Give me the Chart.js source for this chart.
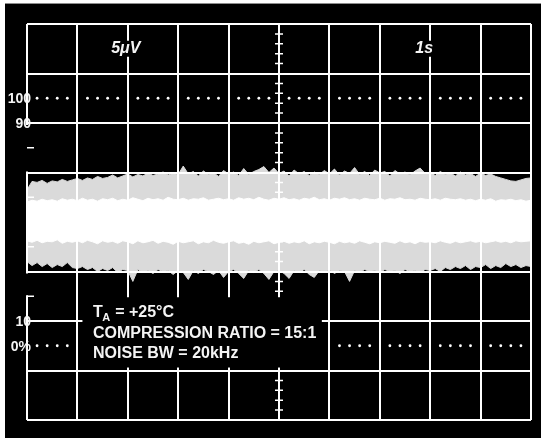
<!DOCTYPE html>
<html>
<head>
<meta charset="utf-8">
<script src="https://cdn.jsdelivr.net/npm/chart.js@4.4.1/dist/chart.umd.min.js"></script>
<style>
  html, body { margin: 0; padding: 0; background: #fff; }
  canvas { display: block; }
</style>
</head>
<body>
<canvas id="scope" width="541" height="438"></canvas>
<script>
// scope trace: 5uV/div vertical, 1s/div horizontal, 10 x 8 divisions
const sampleStep = 0.1 // seconds between envelope samples

// noise envelope, in uV
const upperOuter = [
  3.25, 4.1, 4.0, 4.2, 3.9, 4.15, 4.05, 4.3, 4.1, 4.25, 4.4,
  4.2, 4.45, 4.3, 4.6, 4.4, 4.5, 4.75, 4.45, 4.65,
  4.85, 4.55, 4.8, 4.65, 4.95, 4.7, 4.85, 5.05, 4.75, 4.9,
  4.8, 5.65, 4.85, 5.1, 4.65, 5.15, 4.8, 5.0, 4.6, 5.2,
  4.85, 5.05, 4.7, 5.4, 4.8, 5.1, 5.3, 5.6, 5.0, 5.45,
  4.9, 5.15, 4.65, 5.25, 4.85, 5.1, 4.7, 5.05, 4.8, 5.2,
  4.85, 5.35, 4.75, 5.15, 4.9, 5.5, 4.8, 5.1, 4.7, 5.25,
  4.95, 5.1, 4.65, 5.2, 4.85, 5.05, 4.75, 5.15, 5.45, 4.9,
  5.0, 4.7, 5.1, 4.8, 4.95, 4.65, 5.05, 4.75, 4.9, 4.6,
  4.95, 4.7, 4.85, 4.6, 4.45, 4.3, 4.15, 4.1, 4.25, 4.4,
  4.45
]
const upperInner = [
  2.0, 2.2, 2.1, 2.3, 2.15, 2.25, 2.1, 2.35, 2.2, 2.3, 2.15,
  2.4, 2.2, 2.3, 2.1, 2.35, 2.25, 2.4, 2.15, 2.3,
  2.2, 2.45, 2.3, 2.15, 2.4, 2.25, 2.35, 2.2, 2.5, 2.3,
  2.25, 2.4, 2.2, 2.35, 2.3, 2.45, 2.2, 2.3, 2.4, 2.25,
  2.35, 2.2, 2.45, 2.3, 2.4, 2.25, 2.5, 2.3, 2.2, 2.4,
  2.3, 2.45, 2.25, 2.35, 2.2, 2.4, 2.3, 2.5, 2.25, 2.35,
  2.2, 2.4, 2.3, 2.45, 2.25, 2.35, 2.2, 2.4, 2.3, 2.25,
  2.4, 2.2, 2.35, 2.3, 2.45, 2.25, 2.3, 2.2, 2.4, 2.3,
  2.25, 2.35, 2.2, 2.4, 2.3, 2.25, 2.35, 2.2, 2.3, 2.15,
  2.3, 2.2, 2.35, 2.1, 2.25, 2.2, 2.3, 2.15, 2.25, 2.1,
  2.2
]
const lowerInner = [
  -1.9, -2.05, -1.85, -2.1, -1.95, -2.0, -1.8, -2.15, -1.95, -2.05, -1.9,
  -2.1, -1.85, -2.0, -2.2, -1.9, -2.05, -1.95, -2.15, -1.9,
  -2.0, -2.2, -1.9, -2.1, -2.0, -1.85, -2.15, -1.95, -2.05, -2.25,
  -1.95, -2.1, -2.0, -1.9, -2.2, -2.0, -2.1, -1.85, -2.05, -2.15,
  -2.0, -1.9, -2.15, -2.05, -2.25, -1.95, -2.1, -2.0, -1.9, -2.2,
  -2.05, -1.95, -2.15, -2.0, -2.1, -1.9, -2.2, -2.0, -2.1, -1.95,
  -2.05, -2.2, -1.95, -2.1, -2.0, -2.15, -1.9, -2.05, -2.2, -2.0,
  -2.1, -1.95, -2.05, -2.15, -1.9, -2.1, -2.0, -2.2, -1.95, -2.05,
  -2.0, -2.1, -1.9, -2.05, -2.15, -1.95, -2.1, -2.0, -1.9, -2.05,
  -1.95, -2.1, -2.0, -1.9, -2.05, -1.95, -2.1, -1.9, -2.0, -1.95,
  -1.9
]
const lowerOuter = [
  -4.0, -4.4, -4.1, -4.5, -4.2, -4.6, -4.3, -4.5, -4.1, -4.6, -4.7,
  -4.5, -4.8, -4.6, -5.0, -4.7, -4.9, -4.6, -5.1, -4.8,
  -4.9, -6.0, -4.8, -5.1, -4.9, -5.2, -4.8, -5.0, -4.9, -5.3,
  -4.9, -5.1, -5.8, -4.9, -5.2, -4.8, -5.0, -5.3, -4.9, -5.6,
  -5.0, -4.8, -5.2, -5.7, -4.9, -5.1, -4.8, -5.2, -5.8, -5.0,
  -4.9, -5.2, -5.7, -4.9, -5.1, -4.8, -5.3, -5.6, -4.9, -5.1,
  -4.8, -5.2, -4.9, -5.0, -6.0, -4.9, -5.1, -4.8, -5.0, -4.9,
  -5.1, -4.8, -5.0, -4.9, -5.2, -4.8, -5.0, -4.9, -5.1, -4.8,
  -4.9, -4.7, -5.0, -4.6, -4.8, -4.5, -4.7, -4.4, -4.8, -4.5,
  -4.6, -4.3, -4.7, -4.4, -4.6, -4.2, -4.5, -4.3, -4.6, -4.4,
  -4.5
]

// graticule
const yGridValues = [-20, -15, -12.5, -10, -5, 0, 5, 10, 12.5, 15, 20]
const yLabelValues = [12.5, 10, -10, -12.5]
const yLabelTexts = ['100', '90', '10', '0%']
const dotLevels = [12.5, -12.5]
const dotFractions = [0.2, 0.4, 0.6, 0.8]
const divisionsX = [0, 1, 2, 3, 4, 5, 6, 7, 8, 9]
const leftMinorTicks = [7.5, 2.5, -2.5, -7.5]

const voltsLabel = '5μV'
const timeLabel = '1s'
const noteLines = [['T', 'A', ' = +25°C'], ['COMPRESSION RATIO = 15:1'], ['NOISE BW = 20kHz']]

const toPoints = arr => arr.map((v, i) => ({ x: +(i * sampleStep).toFixed(2), y: v }))

const dots = []
dotLevels.forEach(level => {
  divisionsX.forEach(d => {
    dotFractions.forEach(f => dots.push({ x: d + f, y: level }))
  })
})

const GRAY = '#dadada'
const LINE = '#ffffff'
const TEXT = '#f4f4f4'
const FONT = '"Liberation Sans", Arial, sans-serif'

const scopeDecor = {
  id: 'scopeDecor',
  beforeDraw(chart) {
    const c = chart.ctx
    c.save()
    c.fillStyle = '#fff'
    c.fillRect(0, 0, chart.width, chart.height)
    c.fillStyle = '#000'
    c.fillRect(5, 4, chart.width - 5, chart.height - 4)
    c.strokeStyle = '#8c8c8c'
    c.lineWidth = 1
    c.beginPath()
    c.moveTo(5, 3.5)
    c.lineTo(chart.width, 3.5)
    c.stroke()
    c.restore()
  },
  afterDraw(chart) {
    const c = chart.ctx
    const xs = chart.scales.x
    const ys = chart.scales.y
    const left = chart.chartArea.left
    c.save()

    // gaps in the left border
    c.strokeStyle = '#000'
    c.lineWidth = 3
    c.beginPath()
    c.moveTo(left, ys.getPixelForValue(10) + 2)
    c.lineTo(left, ys.getPixelForValue(5) - 1)
    c.moveTo(left, ys.getPixelForValue(-5) + 2)
    c.lineTo(left, ys.getPixelForValue(-7.5) - 1)
    c.stroke()

    // minor ticks on the centre vertical and left edge
    c.strokeStyle = LINE
    c.lineWidth = 1.5
    c.beginPath()
    const cx = xs.getPixelForValue(5)
    for (let v = -19; v <= 19; v++) {
      if (v % 5 === 0) continue
      const py = ys.getPixelForValue(v)
      c.moveTo(cx - 4, py)
      c.lineTo(cx + 4, py)
    }
    leftMinorTicks.forEach(v => {
      const py = ys.getPixelForValue(v)
      c.moveTo(left, py)
      c.lineTo(left + 7, py)
    })
    c.stroke()

    // percent labels on the left edge
    c.fillStyle = TEXT
    c.font = 'bold 14px ' + FONT
    c.textAlign = 'right'
    c.textBaseline = 'middle'
    yLabelValues.forEach((v, i) => {
      c.fillText(yLabelTexts[i], left + 4, ys.getPixelForValue(v) + 1)
    })

    // annotation box
    const bx0 = xs.getPixelForValue(1.1)
    const bx1 = xs.getPixelForValue(5.85)
    const by0 = ys.getPixelForValue(-7.6)
    const by1 = ys.getPixelForValue(-14.7)
    c.fillStyle = '#000'
    c.fillRect(bx0, by0, bx1 - bx0, by1 - by0)

    c.fillStyle = TEXT
    c.textBaseline = 'alphabetic'
    c.textAlign = 'left'
    const tx = xs.getPixelForValue(1.31)
    const baselines = [-9.6, -11.7, -13.75]
    noteLines.forEach((parts, i) => {
      const py = ys.getPixelForValue(baselines[i])
      c.font = 'bold 16px ' + FONT
      if (parts.length === 3) {
        c.fillText(parts[0], tx, py)
        let w = c.measureText(parts[0]).width
        c.font = 'bold 11px ' + FONT
        c.fillText(parts[1], tx + w - 0.5, py + 4)
        w += c.measureText(parts[1]).width
        c.font = 'bold 16px ' + FONT
        c.fillText(parts[2], tx + w, py)
      } else {
        c.fillText(parts[0], tx, py)
      }
    })

    // sensitivity labels
    c.font = 'italic bold 16px ' + FONT
    c.textAlign = 'center'
    c.textBaseline = 'middle'
    ;[[voltsLabel, 1.96], [timeLabel, 7.88]].forEach(([txt, xv]) => {
      const px = xs.getPixelForValue(xv)
      const py = ys.getPixelForValue(17.5)
      const w = c.measureText(txt).width
      c.fillStyle = '#000'
      c.fillRect(px - w / 2 - 1, py - 8, w + 2, 16)
      c.fillStyle = TEXT
      c.fillText(txt, px, py)
    })
    c.restore()
  }
}

new Chart(document.getElementById('scope'), {
  type: 'line',
  data: {
    datasets: [
      { data: toPoints(upperOuter), borderColor: GRAY, backgroundColor: GRAY, borderWidth: 1, fill: '+1', order: 3 },
      { data: toPoints(lowerOuter), borderColor: GRAY, borderWidth: 1, fill: false, order: 3 },
      { data: toPoints(upperInner), borderColor: '#fff', backgroundColor: '#fff', borderWidth: 1, fill: '+1', order: 2 },
      { data: toPoints(lowerInner), borderColor: '#fff', borderWidth: 1, fill: false, order: 2 },
      { type: 'scatter', data: dots, pointRadius: 1.4, pointBackgroundColor: '#fff', pointBorderWidth: 0, showLine: false, order: 1 }
    ]
  },
  options: {
    responsive: false,
    animation: false,
    events: [],
    elements: { line: { tension: 0 }, point: { radius: 0 } },
    layout: { padding: { top: 24, right: 10 } },
    plugins: {
      legend: { display: false },
      tooltip: { enabled: false }
    },
    scales: {
      x: {
        type: 'linear',
        min: 0,
        max: 10,
        afterFit: s => { s.height = 18 },
        ticks: { display: false, stepSize: 1 },
        border: { display: false },
        grid: { color: LINE, lineWidth: 2, drawTicks: false, z: 1 }
      },
      y: {
        min: -20,
        max: 20,
        afterBuildTicks: s => { s.ticks = yGridValues.map(v => ({ value: v })) },
        afterFit: s => { s.width = 27 },
        ticks: { display: false },
        border: { display: false },
        grid: {
          lineWidth: 2,
          drawTicks: false,
          z: 1,
          color: ctx => (ctx.tick && ctx.tick.value % 5 === 0) ? LINE : 'rgba(0,0,0,0)'
        }
      }
    }
  },
  plugins: [scopeDecor]
})
</script>
</body>
</html>
